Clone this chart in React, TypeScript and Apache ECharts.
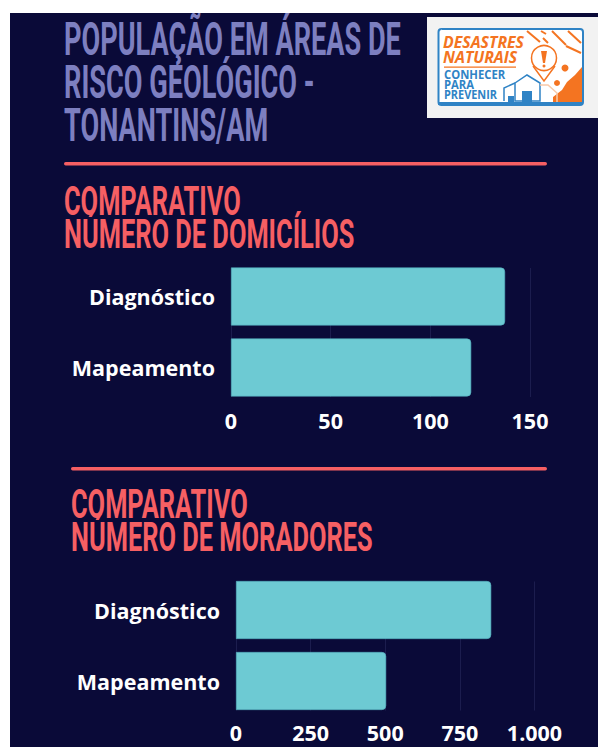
import React, { useEffect, useRef } from "react";
import * as echarts from "echarts";

const categories = ["Diagnóstico", "Mapeamento"];
const domicilios = [137.5, 120.5];
const moradores = [855, 503];
const domiciliosTicks = { max: 150, interval: 50 };
const moradoresTicks = { max: 1000, interval: 250 };
const titleLines = ["POPULAÇÃO EM ÁREAS DE", "RISCO GEOLÓGICO -", "TONANTINS/AM"];
const heading1 = ["COMPARATIVO", "NÚMERO DE DOMICÍLIOS"];
const heading2 = ["COMPARATIVO", "NÚMERO DE MORADORES"];

const BG = "#0a0a38";
const CORAL = "#f65f63";
const TITLE = "#7d7fc0";
const TEAL = "#6dcad3";
const ORANGE = "#f47421";
const BLUE = "#2f83c5";

const condensed = (text: string, x: number, base: number, size: number, scaleX: number, fill: string) => ({
  type: "text",
  x,
  y: base - size * 0.355,
  scaleX,
  style: { text, fontSize: size, fontFamily: "Roboto", fontWeight: 700, fill, verticalAlign: "middle" },
});

const logoText = (text: string, x: number, base: number, size: number, fill: string, italic: boolean, scaleX = 1) => ({
  type: "text",
  x,
  y: base - size * 0.357,
  scaleX,
  style: {
    text,
    fontSize: size,
    fontFamily: "Open Sans",
    fontWeight: 700,
    fontStyle: italic ? "italic" : "normal",
    fill,
    verticalAlign: "middle",
  },
});

const stroke = (type: string, points: number[][], color: string, lineWidth: number) => ({
  type,
  shape: { points },
  style: { stroke: color, lineWidth, fill: "none" },
});

const dash = (x1: number, y1: number, x2: number, y2: number) => ({
  type: "line",
  shape: { x1, y1, x2, y2 },
  style: { stroke: ORANGE, lineWidth: 2 },
});

const logo = [
  { type: "rect", shape: { x: 427, y: 17, width: 171, height: 101 }, style: { fill: "#f2f2f2" } },
  {
    type: "rect",
    shape: { x: 438.5, y: 29, width: 144.5, height: 76, r: 3 },
    style: { fill: "#ffffff", stroke: BLUE, lineWidth: 2 },
  },
  dash(527, 31, 540, 42),
  dash(541, 31, 546, 34),
  dash(552, 31, 566, 45),
  dash(568, 31, 581, 43),
  dash(543, 38, 548, 43),
  dash(566, 46, 581, 53),
  {
    type: "polygon",
    shape: { points: [[582, 67], [575, 75], [567, 82], [562, 90], [553, 97], [553, 104], [582, 104]] },
    style: { fill: ORANGE },
  },
  { type: "circle", shape: { cx: 565, cy: 68, r: 3.5 }, style: { fill: ORANGE } },
  { type: "circle", shape: { cx: 557, cy: 83, r: 3 }, style: { fill: ORANGE } },
  { type: "circle", shape: { cx: 544, cy: 58, r: 12.5 }, style: { fill: "#ffffff", stroke: ORANGE, lineWidth: 1.5 } },
  stroke("polyline", [[533, 66], [544, 81], [555, 66]], ORANGE, 1.5),
  {
    type: "polygon",
    shape: { points: [[541, 51], [547, 51], [545, 63], [543, 63]] },
    style: { fill: ORANGE },
  },
  { type: "circle", shape: { cx: 544, cy: 66, r: 1.5 }, style: { fill: ORANGE } },
  {
    type: "polygon",
    shape: { points: [[515, 83], [527, 75], [540, 83], [540, 101], [515, 101]] },
    style: { fill: "#ffffff", stroke: BLUE, lineWidth: 1.5 },
  },
  { type: "rect", shape: { x: 522, y: 91, width: 10, height: 11 }, style: { fill: BLUE } },
  stroke("polyline", [[504, 101], [504, 88], [515, 83]], BLUE, 1.5),
  { type: "rect", shape: { x: 508, y: 96, width: 6, height: 6 }, style: { fill: BLUE } },
  stroke("polyline", [[540, 85], [548, 85], [557, 93], [557, 102]], "#f9c9a8", 1.5),
  { type: "rect", shape: { x: 438, y: 102, width: 145, height: 3 }, style: { fill: BLUE } },
  logoText("DESASTRES", 443, 48, 16.5, ORANGE, true, 0.96),
  logoText("NATURAIS", 443, 63, 16.5, ORANGE, true, 0.96),
  { type: "rect", shape: { x: 444, y: 66.5, width: 72, height: 1.2 }, style: { fill: ORANGE } },
  logoText("CONHECER", 444, 79, 11.5, BLUE, false, 0.98),
  logoText("PARA", 444, 88.5, 11.5, BLUE, false, 0.98),
  logoText("PREVENIR", 444, 98, 11.5, BLUE, false, 0.95),
];

const gridLabel = { color: "#ffffff", fontFamily: "Open Sans", fontWeight: 700, fontSize: 21.5 };

const makeChart = (
  base: number,
  left: number,
  right: number,
  top: number,
  tickMargin: number,
  values: number[],
  ticks: { max: number; interval: number },
  name: string,
) => ({
  grids: [
    { left, right, top, height: 142, containLabel: false },
    { left, right, top: top + 7, height: 129, containLabel: false },
  ],
  xAxes: [
    {
      type: "value",
      gridIndex: base,
      min: 0,
      max: ticks.max,
      interval: ticks.interval,
      axisLine: { show: false },
      axisTick: { show: false },
      splitLine: { show: false },
      axisLabel: {
        ...gridLabel,
        margin: tickMargin,
        formatter: (v: number) => (v >= 1000 ? `${v / 1000}.000` : `${v}`),
      },
    },
    {
      type: "value",
      gridIndex: base + 1,
      min: 0,
      max: ticks.max,
      interval: ticks.interval,
      axisLine: { show: false },
      axisTick: { show: false },
      axisLabel: { show: false },
      splitLine: { show: true, lineStyle: { color: "#1c1d4e", width: 1 } },
    },
  ],
  yAxes: [
    {
      type: "category",
      gridIndex: base,
      inverse: true,
      data: categories,
      axisLine: { show: false },
      axisTick: { show: false },
      axisLabel: { ...gridLabel, margin: 16 },
    },
    {
      type: "category",
      gridIndex: base + 1,
      inverse: true,
      data: categories,
      show: false,
    },
  ],
  series: {
    type: "bar",
    name,
    xAxisIndex: base,
    yAxisIndex: base,
    data: values,
    barWidth: 58,
    z: 3,
    itemStyle: {
      color: TEAL,
      borderColor: "#52afbd",
      borderWidth: 0.6,
      borderRadius: [0, 4, 4, 0],
    },
  },
});

export default function App() {
  const ref = useRef<HTMLDivElement>(null);
  useEffect(() => {
    if (!ref.current) return;
    const chart = echarts.init(ref.current, undefined, { renderer: "svg" });
    const a = makeChart(0, 231, 68, 261, 6, domicilios, domiciliosTicks, "Domicílios");
    const b = makeChart(2, 236, 63.5, 574.5, 5, moradores, moradoresTicks, "Moradores");
    chart.setOption({
      animation: false,
      backgroundColor: "#ffffff",
      grid: [...a.grids, ...b.grids],
      xAxis: [...a.xAxes, ...b.xAxes],
      yAxis: [...a.yAxes, ...b.yAxes],
      series: [a.series, b.series],
      graphic: {
        elements: [
          { type: "rect", z: -10, shape: { x: 10, y: 13, width: 588, height: 734 }, style: { fill: BG } },
          condensed(titleLines[0], 64, 55, 46, 0.59, TITLE),
          condensed(titleLines[1], 64, 98, 46, 0.59, TITLE),
          condensed(titleLines[2], 64, 141, 46, 0.59, TITLE),
          { type: "rect", shape: { x: 64, y: 162, width: 483, height: 3.5, r: 1.7 }, style: { fill: CORAL } },
          condensed(heading1[0], 64, 215, 40, 0.635, CORAL),
          condensed(heading1[1], 64, 248, 40, 0.635, CORAL),
          { type: "rect", shape: { x: 71, y: 467, width: 476, height: 3.5, r: 1.7 }, style: { fill: CORAL } },
          condensed(heading2[0], 71, 518, 40, 0.635, CORAL),
          condensed(heading2[1], 71, 551, 40, 0.635, CORAL),
          ...logo,
        ],
      },
    });
    return () => chart.dispose();
  }, []);
  return <div ref={ref} style={{ position: "fixed", left: 0, top: 0, width: 598, height: 747 }} />;
}
